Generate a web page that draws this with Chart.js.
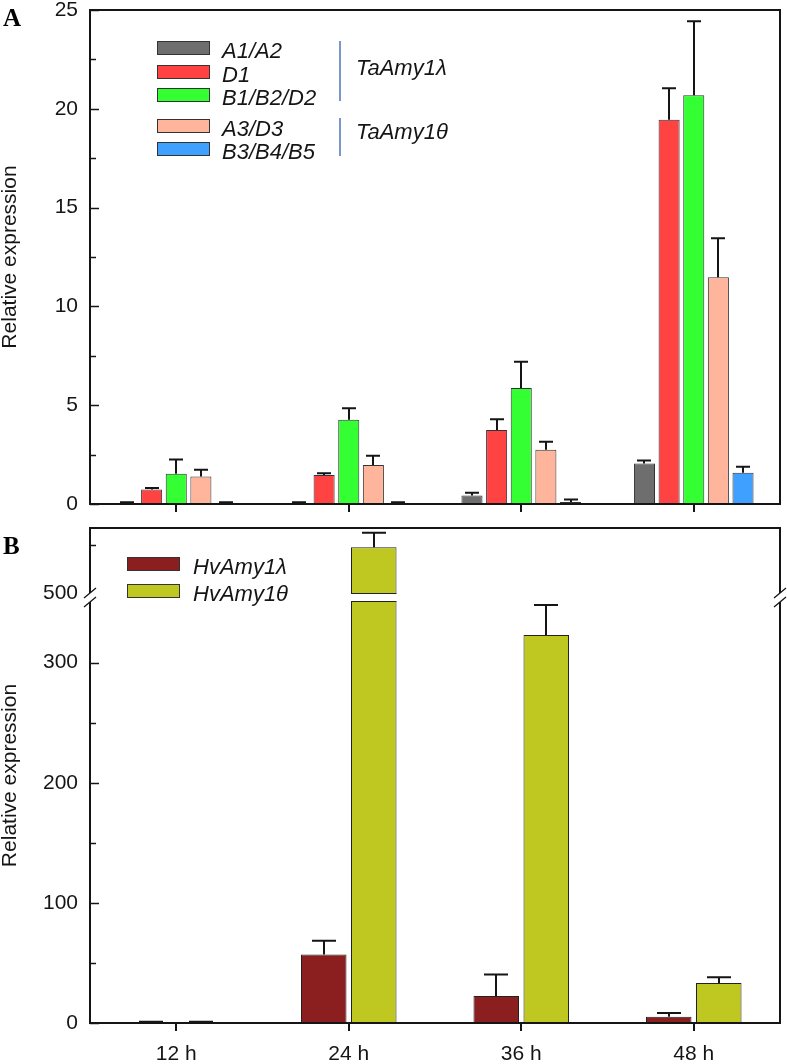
<!DOCTYPE html>
<html>
<head>
<meta charset="utf-8">
<script src="https://cdn.jsdelivr.net/npm/chart.js@4.4.1/dist/chart.umd.min.js"></script>
<style>
  html, body { margin: 0; padding: 0; background: #fff; }
  #wrap { position: relative; width: 787px; height: 1064px; }
  canvas { position: absolute; left: 0; }
  #chartA { top: 0; }
  #chartB { top: 520px; }
  .panel { position: absolute; left: 3px; font: bold 25px/25px "Liberation Serif", "Times New Roman", serif; color: #000; }
</style>
</head>
<body>
<div id="wrap">
  <canvas id="chartA" width="787" height="520"></canvas>
  <canvas id="chartB" width="787" height="544"></canvas>
  <div class="panel" style="top:5px">A</div>
  <div class="panel" style="top:533px">B</div>
</div>
<script>
// ---- data ----
const timePoints = ['12 h', '24 h', '36 h', '48 h'];

// panel A: wheat genes
const wheatGenes = ['A1/A2', 'D1', 'B1/B2/D2', 'A3/D3', 'B3/B4/B5'];
const wheatGroups = ['TaAmy1λ', 'TaAmy1θ'];
const wheatGroupRows = [[0, 2], [3, 4]];
const wheatMean = [
  [0.05, 0.05, 0.43, 2.05],
  [0.74, 1.47, 3.74, 19.45],
  [1.53, 4.26, 5.87, 20.69],
  [1.39, 1.98, 2.74, 11.47],
  [0.05, 0.05, 0.10, 1.58]
];
const wheatSd = [
  [0.04, 0.04, 0.14, 0.15],
  [0.07, 0.09, 0.55, 1.59],
  [0.72, 0.59, 1.33, 3.74],
  [0.34, 0.46, 0.41, 1.98],
  [0.04, 0.04, 0.13, 0.31]
];
const wheatTicks = [0, 5, 10, 15, 20, 25];

// panel B: barley genes
const barleyGenes = ['HvAmy1λ', 'HvAmy1θ'];
const barleyMean = [
  [0.4, 57, 22.5, 5.3],
  [0.4, 595, 323, 33.3]
];
const barleySd = [
  [0.6, 11.5, 17.8, 3.0],
  [0.6, 30, 25, 4.7]
];
const barleyTicks = [0, 50, 100, 150, 200, 250, 300, 500, 600];
const barleyLabels = [0, 100, 200, 300, 500];
const breakLow = 350;   // lower segment ends here
const breakHigh = 480;  // upper segment starts here
const breakShown = 500; // first value drawn above the gap
const barleyMax = 635;

// ---- style ----
const wheatColors = ['#6e6e6e', '#ff4242', '#33ff33', '#ffb59c', '#40a0ff'];
const barleyColors = ['#8b1e1e', '#bfc821'];
const ink = '#151515';
const fontFam = '"Liberation Sans", Arial, sans-serif';

Chart.defaults.font.family = fontFam;
Chart.defaults.color = ink;
Chart.defaults.animation = false;

// linear scale with a collapsed gap between breakLow and breakHigh
const lowShare = 420 / 494.4;
class BrokenLinearScale extends Chart.LinearScale {
  static id = 'brokenLinear';
  static defaults = Chart.LinearScale.defaults;
  buildTicks() {
    return barleyTicks.map(v => ({ value: v }));
  }
  getPixelForValue(value) {
    if (value === null || value === undefined) return NaN;
    let d;
    if (value <= breakLow) d = value / breakLow * lowShare;
    else if (value < breakHigh) d = lowShare;
    else d = lowShare + (value - breakHigh) / (this.max - breakHigh) * (1 - lowShare);
    return this.getPixelForDecimal(d);
  }
  getValueForPixel(pixel) {
    const d = this.getDecimalForPixel(pixel);
    if (d <= lowShare) return d / lowShare * breakLow;
    return breakHigh + (d - lowShare) / (1 - lowShare) * (this.max - breakHigh);
  }
}
Chart.register(BrokenLinearScale);

// ---- plugins ----
const errorBars = {
  id: 'errorBars',
  afterDatasetsDraw(chart, args, opts) {
    const ctx = chart.ctx, ys = chart.scales.y, half = opts.cap / 2;
    ctx.save();
    ctx.strokeStyle = ink;
    ctx.lineWidth = 2;
    chart.data.datasets.forEach((ds, i) => {
      chart.getDatasetMeta(i).data.forEach((bar, j) => {
        const top = ys.getPixelForValue(ds.data[j] + ds.errors[j]);
        const x = Math.round(bar.x);
        ctx.beginPath();
        ctx.moveTo(x, bar.y);
        ctx.lineTo(x, top);
        ctx.moveTo(x - half, top);
        ctx.lineTo(x + half, top);
        ctx.stroke();
      });
    });
    ctx.restore();
  }
};

const frame = {
  id: 'frame',
  afterDatasetsDraw(chart, args, opts) {
    const ctx = chart.ctx, { left, right, top, bottom } = chart.chartArea;
    ctx.save();
    ctx.strokeStyle = ink;
    ctx.lineWidth = 2;
    if (!opts.broken) {
      ctx.strokeRect(left, top, right - left, bottom - top);
      ctx.restore();
      return;
    }
    const ys = chart.scales.y;
    const gTop = Math.round(ys.getPixelForValue(breakShown));
    const gBot = Math.round(ys.getPixelForValue(breakLow));
    // white gap through the chart
    ctx.fillStyle = '#fff';
    ctx.fillRect(left - 8, gTop, right - left + 16, gBot - gTop);
    // close the bars cut by the gap
    chart.data.datasets.forEach((ds, i) => {
      chart.getDatasetMeta(i).data.forEach((bar, j) => {
        if (ds.data[j] <= breakLow) return;
        ctx.save();
        ctx.lineWidth = 1;
        ctx.strokeStyle = ds.borderColor;
        ctx.beginPath();
        ctx.moveTo(bar.x - bar.width / 2, gTop + 0.5);
        ctx.lineTo(bar.x + bar.width / 2, gTop + 0.5);
        ctx.moveTo(bar.x - bar.width / 2, gBot - 0.5);
        ctx.lineTo(bar.x + bar.width / 2, gBot - 0.5);
        ctx.stroke();
        ctx.restore();
      });
    });
    ctx.beginPath();
    ctx.moveTo(left - 1, top); ctx.lineTo(right + 1, top);
    ctx.moveTo(left - 1, bottom); ctx.lineTo(right + 1, bottom);
    [left, right].forEach(x => {
      ctx.moveTo(x, top); ctx.lineTo(x, gTop);
      ctx.moveTo(x, gBot); ctx.lineTo(x, bottom);
    });
    ctx.stroke();
    ctx.lineWidth = 1.3;
    ctx.beginPath();
    [left, right].forEach(x => {
      [gTop, gBot].forEach(y => {
        ctx.moveTo(x - 6, y + 5);
        ctx.lineTo(x + 6, y - 5);
      });
    });
    ctx.stroke();
    ctx.restore();
  }
};

const innerTicks = {
  id: 'innerTicks',
  afterDraw(chart, args, opts) {
    const ctx = chart.ctx, ys = chart.scales.y, left = chart.chartArea.left;
    ctx.save();
    ctx.strokeStyle = ink;
    ctx.lineWidth = 1.5;
    ys.ticks.forEach(t => {
      if ((opts.skip || []).includes(t.value)) return;
      const y = Math.round(ys.getPixelForValue(t.value)) + 0.5;
      const len = t.label === '' ? 6 : 9;
      ctx.beginPath();
      ctx.moveTo(left, y);
      ctx.lineTo(left + len, y);
      ctx.stroke();
    });
    ctx.restore();
  }
};

const boxLegend = {
  id: 'boxLegend',
  afterDraw(chart, args, opts) {
    const ctx = chart.ctx;
    ctx.save();
    ctx.font = 'italic 22px ' + fontFam;
    ctx.textBaseline = 'alphabetic';
    chart.data.datasets.forEach((ds, i) => {
      const top = opts.rows[i];
      ctx.fillStyle = ds.backgroundColor;
      ctx.fillRect(opts.x, top, opts.w, 14);
      ctx.strokeStyle = '#333';
      ctx.lineWidth = 1;
      ctx.strokeRect(opts.x + 0.5, top + 0.5, opts.w - 1, 13);
      ctx.fillStyle = ink;
      ctx.fillText(ds.label, opts.textX, top + 17);
    });
    (opts.groups || []).forEach(g => {
      ctx.strokeStyle = '#7b97c9';
      ctx.lineWidth = 2;
      ctx.beginPath();
      ctx.moveTo(opts.sepX, g.y0);
      ctx.lineTo(opts.sepX, g.y1);
      ctx.stroke();
      ctx.fillStyle = ink;
      ctx.fillText(g.text, opts.sepX + 16, g.base);
    });
    ctx.restore();
  }
};

const tickFont = { family: fontFam, size: 21 };
const titleOpts = { display: true, text: 'Relative expression', font: { family: fontFam, size: 21, lineHeight: 1 }, padding: 0, color: ink };

// ---- panel A ----
const legendRowsA = [41, 65, 88, 119, 142];
const groupLinesA = [[41, 101], [118, 156]];
const groupBaseA = [75, 139];

new Chart(document.getElementById('chartA'), {
  type: 'bar',
  data: {
    labels: timePoints,
    datasets: wheatGenes.map((g, i) => ({
      label: g,
      data: wheatMean[i],
      errors: wheatSd[i],
      backgroundColor: wheatColors[i],
      borderColor: '#333',
      borderWidth: 1,
      categoryPercentage: 0.714,
      barPercentage: 0.855
    }))
  },
  options: {
    responsive: false,
    layout: { padding: { top: 10, right: 7, left: 0, bottom: 0 } },
    plugins: {
      legend: { display: false },
      tooltip: { enabled: false },
      errorBars: { cap: 14 },
      frame: { broken: false },
      innerTicks: {},
      boxLegend: {
        x: 157, w: 53, textX: 222, sepX: 340, rows: legendRowsA,
        groups: wheatGroups.map((t, k) => ({ text: t, y0: groupLinesA[k][0], y1: groupLinesA[k][1], base: groupBaseA[k] }))
      }
    },
    scales: {
      x: {
        grid: { display: true, drawOnChartArea: false, offset: false, color: ink, lineWidth: 2, tickLength: 8 },
        border: { display: false },
        ticks: { display: false },
        afterFit(s) { s.height = 16; s.paddingLeft = 0; s.paddingRight = 0; }
      },
      y: {
        min: 0, max: 25,
        grid: { display: false, drawTicks: false },
        border: { display: false },
        ticks: {
          stepSize: 2.5, autoSkip: false, padding: 12, font: tickFont,
          callback: v => (wheatTicks.includes(v) ? v : '')
        },
        title: titleOpts,
        afterFit(s) { s.width = 90; s.paddingTop = 0; s.paddingBottom = 0; }
      }
    }
  },
  plugins: [errorBars, frame, innerTicks, boxLegend]
});

// ---- panel B ----
const legendRowsB = [37, 64];

new Chart(document.getElementById('chartB'), {
  type: 'bar',
  data: {
    labels: timePoints,
    datasets: barleyGenes.map((g, i) => ({
      label: g,
      data: barleyMean[i],
      errors: barleySd[i],
      backgroundColor: barleyColors[i],
      borderColor: '#222',
      borderWidth: 1,
      categoryPercentage: 0.58,
      barPercentage: 0.91
    }))
  },
  options: {
    responsive: false,
    layout: { padding: { top: 8, right: 7, left: 0, bottom: 0 } },
    plugins: {
      legend: { display: false },
      tooltip: { enabled: false },
      errorBars: { cap: 24 },
      frame: { broken: true },
      innerTicks: { skip: [breakShown] },
      boxLegend: { x: 127, w: 53, textX: 193, rows: legendRowsB, groups: [] }
    },
    scales: {
      x: {
        grid: { display: true, drawOnChartArea: false, offset: false, color: ink, lineWidth: 2, tickLength: 8 },
        border: { display: false },
        ticks: { font: tickFont, padding: 11, color: ink },
        afterFit(s) { s.height = 41; s.paddingLeft = 0; s.paddingRight = 0; }
      },
      y: {
        type: 'brokenLinear',
        min: 0, max: barleyMax,
        grid: { display: false, drawTicks: false },
        border: { display: false },
        ticks: {
          autoSkip: false, padding: 12, font: tickFont,
          callback: v => (barleyLabels.includes(v) ? v : '')
        },
        title: titleOpts,
        afterFit(s) { s.width = 90; s.paddingTop = 0; s.paddingBottom = 0; }
      }
    }
  },
  plugins: [errorBars, frame, innerTicks, boxLegend]
});
</script>
</body>
</html>
